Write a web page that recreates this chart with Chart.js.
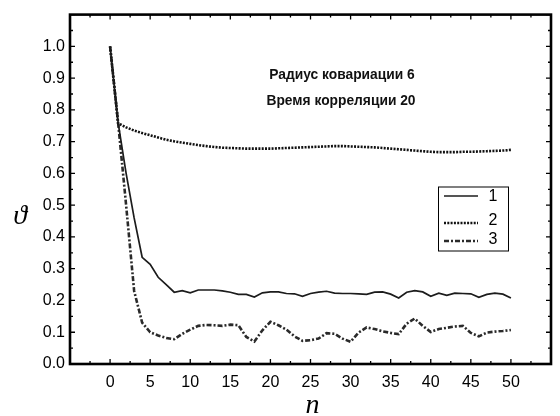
<!DOCTYPE html>
<html><head><meta charset="utf-8">
<script src="https://cdn.jsdelivr.net/npm/chart.js@4/dist/chart.umd.min.js"></script>
<style>html,body{margin:0;padding:0;background:#fff;overflow:hidden}#wrap{width:560px;height:416px}</style>
</head><body><div id="wrap"><canvas id="c" width="560" height="416"></canvas></div>
<script>
// ---- data ----
const nValues = [0,1,2,3,4,5,6,7,8,9,10,11,12,13,14,15,16,17,18,19,20,21,22,23,24,25,26,27,28,29,30,31,32,33,34,35,36,37,38,39,40,41,42,43,44,45,46,47,48,49,50];
const series1 = [1.0,0.76,0.60,0.46,0.336,0.314,0.273,0.25,0.226,0.231,0.224,0.233,0.233,0.233,0.230,0.226,0.219,0.219,0.211,0.224,0.227,0.227,0.222,0.221,0.213,0.222,0.226,0.229,0.223,0.222,0.222,0.221,0.219,0.226,0.227,0.220,0.208,0.226,0.231,0.227,0.213,0.223,0.216,0.223,0.222,0.221,0.210,0.219,0.223,0.220,0.208];
const series2 = [1.0,0.758,0.745,0.735,0.727,0.720,0.713,0.706,0.701,0.697,0.693,0.689,0.686,0.683,0.681,0.680,0.679,0.678,0.678,0.678,0.678,0.679,0.680,0.681,0.682,0.683,0.684,0.685,0.686,0.686,0.685,0.684,0.683,0.682,0.680,0.678,0.676,0.674,0.672,0.670,0.668,0.667,0.667,0.667,0.668,0.668,0.669,0.670,0.671,0.672,0.674];
const series3 = [1.0,0.76,0.50,0.23,0.13,0.100,0.090,0.082,0.078,0.095,0.108,0.120,0.123,0.122,0.120,0.124,0.122,0.085,0.071,0.106,0.133,0.122,0.108,0.087,0.073,0.075,0.080,0.097,0.095,0.080,0.070,0.099,0.115,0.110,0.103,0.098,0.094,0.127,0.143,0.120,0.101,0.110,0.114,0.118,0.120,0.098,0.087,0.099,0.102,0.104,0.107];
const seriesNames = ['1','2','3'];
const xTickLabels = ['0','5','10','15','20','25','30','35','40','45','50'];
const yTickLabels = ['0.0','0.1','0.2','0.3','0.4','0.5','0.6','0.7','0.8','0.9','1.0'];
const annotationLines = ['Радиус ковариации 6','Время корреляции 20'];
const xTitle = 'n';
const yTitle = 'ϑ';

const toPts = arr => arr.map((v,i)=>({x:nValues[i], y:v}));
const lineColor = '#1c1c1c';

const framePlugin = {
  id:'frame',
  afterDatasetsDraw(chart){
    const {ctx, chartArea:a, scales:{x,y}} = chart;
    ctx.save();
    ctx.strokeStyle='#000';
    ctx.lineWidth=1.3;
    ctx.beginPath();
    for (let k=0;k<=24;k++){
      const v=-5+k*2.5, px=x.getPixelForValue(v), L=(k%2===0)?5:3;
      ctx.moveTo(px,a.bottom); ctx.lineTo(px,a.bottom-L);
      ctx.moveTo(px,a.top); ctx.lineTo(px,a.top+L);
    }
    for (let k=0;k<=22;k++){
      const v=k*0.05, py=y.getPixelForValue(v), L=(k%2===0)?5:3;
      ctx.moveTo(a.left,py); ctx.lineTo(a.left+L,py);
      ctx.moveTo(a.right,py); ctx.lineTo(a.right-L,py);
    }
    ctx.stroke();
    ctx.lineWidth=2.6;
    ctx.strokeRect(a.left,a.top,a.right-a.left,a.bottom-a.top);

    // annotation text
    ctx.fillStyle='#111';
    ctx.font='bold 13.8px "Liberation Sans", Arial, sans-serif';
    ctx.textAlign='center'; ctx.textBaseline='middle';
    ctx.fillText(annotationLines[0],342,75);
    ctx.fillText(annotationLines[1],341,101);

    // legend
    const lx=438.5, ly=187, lw=70, lh=64;
    ctx.fillStyle='#fff'; ctx.fillRect(lx,ly,lw,lh);
    ctx.lineWidth=1; ctx.strokeStyle='#000'; ctx.strokeRect(lx,ly,lw,lh);
    const rowsLine=[196,223,241], rowsText=[197,221,240];
    chart.data.datasets.forEach((ds,i)=>{
      ctx.save();
      ctx.strokeStyle=ds.borderColor; ctx.lineWidth=ds.borderWidth;
      ctx.setLineDash(ds.borderDash||[]);
      ctx.beginPath(); ctx.moveTo(444,rowsLine[i]); ctx.lineTo(478,rowsLine[i]); ctx.stroke();
      ctx.restore();
      ctx.fillStyle='#000'; ctx.font='16px "Liberation Sans", Arial, sans-serif';
      ctx.textAlign='center'; ctx.textBaseline='middle';
      ctx.fillText(ds.label,493,rowsText[i]);
    });

    // axis titles
    ctx.fillStyle='#000';
    ctx.font='italic 28px "Liberation Serif", "DejaVu Serif", serif';
    ctx.textAlign='center'; ctx.textBaseline='alphabetic';
    ctx.fillText(xTitle,(a.left+a.right)/2+2,413);
    ctx.fillText(yTitle,20,224);
    ctx.restore();
  }
};

new Chart(document.getElementById('c'),{
  type:'line',
  data:{
    labels:nValues,
    datasets:[
      {label:seriesNames[0],data:toPts(series1),borderColor:lineColor,borderWidth:1.7,pointRadius:0,tension:0,fill:false},
      {label:seriesNames[1],data:toPts(series2),borderColor:'#111',borderWidth:2.6,borderDash:[2,1.3],pointRadius:0,tension:0,fill:false},
      {label:seriesNames[2],data:toPts(series3),borderColor:'#2a2a2a',borderWidth:2.6,borderDash:[5,2,2,2],pointRadius:0,tension:0,fill:false}
    ]
  },
  options:{
    responsive:false,animation:false,devicePixelRatio:1,
    layout:{padding:{top:11,right:1.5,left:0,bottom:0}},
    plugins:{legend:{display:false},tooltip:{enabled:false}},
    scales:{
      x:{type:'linear',min:-5,max:55,
        grid:{display:false,drawTicks:false},border:{display:false},
        afterFit:s=>{s.height=52;},
        afterBuildTicks:s=>{s.ticks=[-5,0,5,10,15,20,25,30,35,40,45,50,55].map(v=>({value:v}));},
        ticks:{autoSkip:false,maxRotation:0,padding:9,color:'#000',
          font:{family:'"Liberation Sans", Arial, sans-serif',size:16},
          callback:(v)=>{const i=xTickLabels.indexOf(String(v));return i>=0?xTickLabels[i]:'';}}},
      y:{type:'linear',min:0,max:1.1,
        grid:{display:false,drawTicks:false},border:{display:false},
        afterFit:s=>{s.width=70;},
        afterBuildTicks:s=>{s.ticks=[0,0.1,0.2,0.3,0.4,0.5,0.6,0.7,0.8,0.9,1.0,1.1].map(v=>({value:v}));},
        ticks:{autoSkip:false,padding:5,color:'#000',
          font:{family:'"Liberation Sans", Arial, sans-serif',size:16},
          callback:(v)=>{const i=Math.round(v*10);return i<=10?yTickLabels[i]:'';}}}
    }
  },
  plugins:[framePlugin]
});
</script></body></html>
